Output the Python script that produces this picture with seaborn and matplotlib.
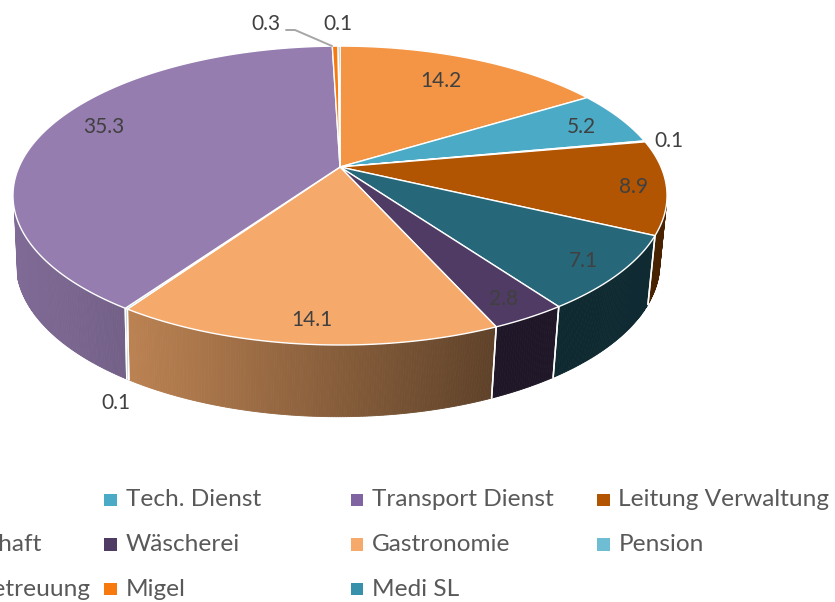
import numpy as np
import pandas as pd
import seaborn as sns
import matplotlib.pyplot as plt
import matplotlib.colors as mcolors

# slices, clockwise from 12 o'clock
values = [14.2, 5.2, 0.1, 8.9, 7.1, 2.8, 14.1, 0.1, 35.3, 0.3, 0.1]
slice_colors = ["#f39545", "#4babc6", "#8064a2", "#b15503", "#26677a", "#4f3b63",
                "#f5aa6b", "#6fbdd3", "#967db0", "#f67a0e", "#3791ab"]
value_labels = ["14.2", "5.2", "0.1", "8.9", "7.1", "2.8", "14.1", "0.1", "35.3", "0.3", "0.1"]
label_x = [441, 581, 669, 633, 583, 503, 312, 116, 104, 266, 338]
label_y = [81, 127, 141, 187, 261, 299, 320, 403, 127, 24, 24]

# legend, the first column runs off the left edge of the picture
legend_names = ["Tech. Dienst", "Transport Dienst", "Leitung Verwaltung",
                "Hauswirtschaft", "Wäscherei", "Gastronomie", "Pension",
                "Pflege & Betreuung", "Migel", "Medi SL"]
legend_cols = [1, 2, 3, 0, 1, 2, 3, 0, 1, 2]
legend_rows = [0, 0, 0, 1, 1, 1, 1, 2, 2, 2]
legend_slices = [1, 2, 3, 4, 5, 6, 7, 8, 9, 10]

TEXT = "Lato"


def project(theta, cx, cy, a, b, k):
    # tilted circle seen in perspective, theta clockwise from the top
    px, py = np.sin(theta), np.cos(theta)
    d = 1 + k * py
    return cx + a * px / d, cy - b * py / d


def top(theta):
    return project(theta, 340, 167, 321, 144, 0.191)


def bottom(theta):
    return project(theta, 338, 234, 316, 148, 0.19)


def wall_shade(x):
    # how much of the slice colour is left on the side wall, from left to right
    return np.interp(x, [20, 133, 490, 660], [0.85, 0.76, 0.39, 0.41])


sns.set_theme(style="white")
plt.rcParams["font.family"] = [TEXT, "DejaVu Sans"]
palette = sns.color_palette(slice_colors)

fig = plt.figure(figsize=(8.35, 6.02), dpi=100)
ax = fig.add_axes([0, 0, 1, 1])
ax.set_xlim(0, 835)
ax.set_ylim(602, 0)
ax.axis("off")

edges = np.cumsum([0] + values) / sum(values) * 2 * np.pi

# side walls first, the top covers whatever is behind it
wall_from, wall_to = np.pi * 0.58, np.pi * 1.41
for i, col in enumerate(palette):
    t0, t1 = max(edges[i], wall_from), min(edges[i + 1], wall_to)
    if t1 <= t0:
        continue
    ts = np.linspace(t0, t1, max(int((t1 - t0) * 150), 2))
    for a, b in zip(ts[:-1], ts[1:]):
        xs = [top(a)[0], top(b)[0], bottom(b)[0], bottom(a)[0]]
        ys = [top(a)[1], top(b)[1], bottom(b)[1], bottom(a)[1]]
        shade = wall_shade(np.mean(xs))
        ax.fill(xs, ys, color=np.array(mcolors.to_rgb(col)) * shade, lw=0.6, zorder=2)
    # white seam at the slice ends
    for t in (t0, t1):
        if wall_from < t < wall_to:
            ax.plot([top(t)[0], bottom(t)[0]], [top(t)[1], bottom(t)[1]],
                    color="white", lw=1.1, zorder=3)

# top of the pie
for i, col in enumerate(palette):
    ts = np.linspace(edges[i], edges[i + 1], max(int((edges[i + 1] - edges[i]) * 120), 3))
    xs, ys = top(ts)
    ax.fill(np.r_[340, xs], np.r_[167, ys], facecolor=col, edgecolor="white", lw=1.0,
            joinstyle="round", zorder=4)

# leader line of the 0.3 label
ax.plot([286, 295, 332], [30, 30, 46], color="#a6a6a6", lw=1.4, zorder=5)

for txt, x, y in zip(value_labels, label_x, label_y):
    ax.text(x, y, txt, ha="center", va="center", fontsize=15, color="#404040", zorder=6)

# legend keys and names
legend = pd.DataFrame({
    "name": legend_names,
    "x": [110.5 + 246.5 * (c - 1) for c in legend_cols],
    "y": [500 + 44.5 * r for r in legend_rows],
    "slice": legend_slices,
})
sns.scatterplot(data=legend, x="x", y="y", hue="slice",
                palette={s: palette[s] for s in legend_slices},
                marker="s", s=75, linewidth=0, legend=False, ax=ax, zorder=6, clip_on=True)
ax.set_xlabel("")
ax.set_ylabel("")
for _, row in legend.iterrows():
    ax.text(row["x"] + 15, row["y"], row["name"], ha="left", va="center",
            fontsize=17.6, color="#595959", zorder=6)

fig.savefig("out.png", dpi=100)
